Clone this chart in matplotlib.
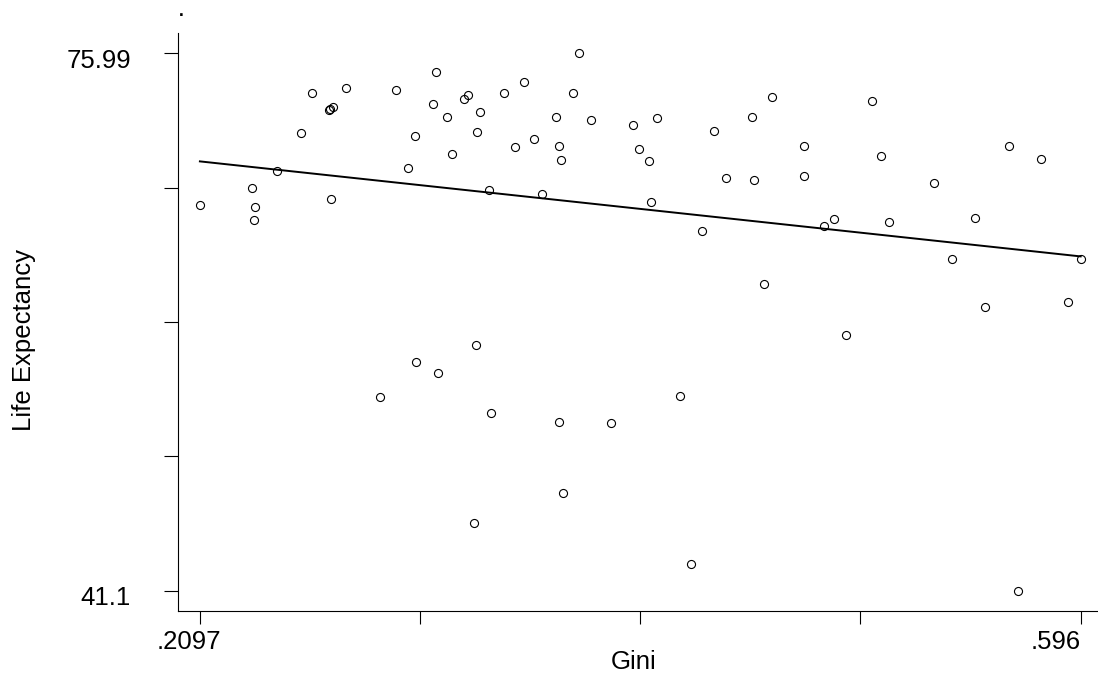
import numpy as np
import matplotlib
matplotlib.use('Agg')
import matplotlib.pyplot as plt
from matplotlib.transforms import ScaledTranslation

# Data
gini = np.array([
    .2097, .2325, .2337, .2334, .2436, .2539, .2590, .2663, .2667, .2679,
    .2670, .2739, .2958, .3132, .3120, .3041, .3009, .3179, .3202, .3254,
    .3274, .3327, .3311, .3365, .3761, .3517, .3429, .3732, .3659, .3813,
    .3995, .4100, .3477, .3561, .3673, .3679, .4024, .4068, .3598, .4077,
    .4298, .4353, .4517, .4605, .4406, .4528, .5043, .4746, .5084, .4746,
    .5318, .5644, .5786, .4879, .4834, .5119, .5496, .3308, .3043, .3141,
    .2885, .3372, .3299, .4572, .3673, .3900, .4201, .3688, .4252, .4932,
    .5397, .5960, .5539, .5904, .5684])
life_exp = np.array([
    66.14, 67.23, 66.03, 65.15, 68.35, 70.80, 73.39, 72.31, 72.39, 72.48,
    66.51, 73.76, 73.63, 74.78, 72.68, 70.64, 68.56, 71.85, 69.47, 73.02,
    73.28, 72.16, 70.88, 67.10, 75.99, 74.11, 73.43, 73.43, 71.83, 71.68,
    71.35, 71.79, 69.93, 70.41, 69.99, 69.08, 69.80, 69.02, 66.86, 66.34,
    64.43, 70.97, 71.87, 73.13, 67.89, 67.74, 72.91, 69.99, 69.34, 68.04,
    67.57, 69.95, 69.13, 65.21, 64.80, 65.02, 65.30, 57.05, 55.97, 55.21,
    53.66, 52.62, 45.50, 60.99, 52.07, 51.97, 53.74, 47.44, 42.81, 57.72,
    62.62, 62.62, 59.50, 59.84, 41.10])

x_ticks = np.linspace(.2097, .596, 5)
x_ticklabels = ['.2097', '', '', '', '.596']
y_ticks = np.linspace(41.1, 75.99, 5)
y_ticklabels = ['41.1', '', '', '', '75.99']

plt.rcParams['font.family'] = ['Liberation Sans', 'DejaVu Sans']

fig = plt.figure(figsize=(10.98, 6.84), dpi=100)
ax = fig.add_axes([178 / 1098, 1 - 611 / 684, 1 - 178 / 1098, (611 - 33) / 684])

# scatter + linear fit
ax.plot(gini, life_exp, linestyle='none', marker='o', markersize=5.8,
        markerfacecolor='none', markeredgecolor='black', markeredgewidth=0.8)
slope, intercept = np.polyfit(gini, life_exp, 1)
fit_x = np.array([gini.min(), gini.max()])
ax.plot(fit_x, intercept + slope * fit_x, color='black', linewidth=1.4)

ax.set_xlim(.2001, .6036)
ax.set_ylim(39.78, 77.31)

ax.spines['top'].set_visible(False)
ax.spines['right'].set_visible(False)
for s in ['left', 'bottom']:
    ax.spines[s].set_linewidth(0.8)
    ax.spines[s].set_color('black')

ax.set_xticks(x_ticks)
ax.set_xticklabels(x_ticklabels, fontsize=18.5)
ax.set_yticks(y_ticks)
ax.set_yticklabels(y_ticklabels, fontsize=18.5)
ax.tick_params(axis='x', length=9.4, width=0.8, pad=4)
ax.tick_params(axis='y', length=10, width=0.8, pad=24)

# nudge tick labels like the original
labs = ax.get_xticklabels()
labs[0].set_transform(labs[0].get_transform() + ScaledTranslation(-11 / 100, 0, fig.dpi_scale_trans))
labs[-1].set_horizontalalignment('right')
for lab in ax.get_yticklabels():
    lab.set_transform(lab.get_transform() + ScaledTranslation(0, -5 / 100, fig.dpi_scale_trans))

fig.text(24 / 1098, 1 - 340 / 684, 'Life Expectancy', rotation=90,
         ha='center', va='center', fontsize=18.5)
fig.text(634 / 1098, 1 - 662 / 684, 'Gini', ha='center', va='center', fontsize=18.5)
fig.text(179 / 1098, 1 - 16 / 684, '.', ha='left', va='baseline', fontsize=12.5,
         fontweight='bold')

fig.savefig('out.png', dpi=100)
